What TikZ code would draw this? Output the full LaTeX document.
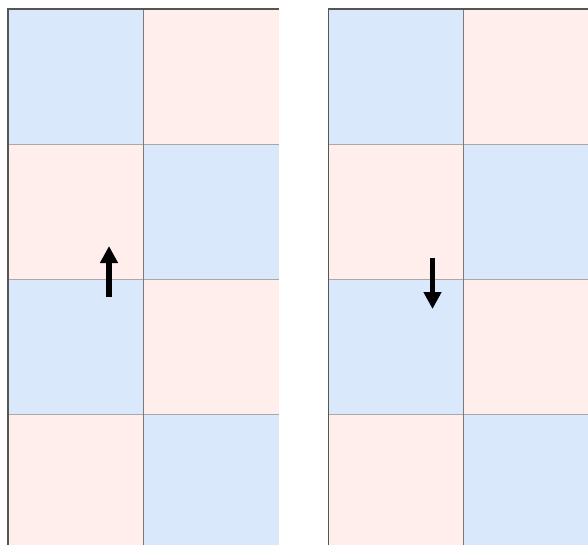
\documentclass[tikz,border=0pt]{standalone}
\usetikzlibrary{arrows.meta}
\definecolor{cblue}{HTML}{DAE8FC}
\definecolor{cpink}{HTML}{FFEEEC}
\definecolor{hline}{HTML}{A8A8A8}
\definecolor{vline}{HTML}{7A7A7A}
\definecolor{edge}{HTML}{555555}
\begin{document}
\begin{tikzpicture}[x=1pt,y=-1pt,
  cell/.style={minimum width=135pt,minimum height=135pt,inner sep=0pt,outer sep=0pt,anchor=north west},
  bluecell/.style={cell,fill=cblue},
  pinkcell/.style={cell,fill=cpink},
  bigarrow/.style={line width=5.5pt,-{Triangle[length=17pt,width=17pt]}}]
\fill[white] (0,0) rectangle (588,544);
\useasboundingbox (0,0) rectangle (588,544);
\begin{scope}
\clip (0,0) rectangle (588,544);
% left grid
\node[bluecell] (a11) at (8,9) {};
\node[pinkcell] (a12) at (143.5,9) {};
\node[pinkcell] (a21) at (8,144) {};
\node[bluecell] (a22) at (143.5,144) {};
\node[bluecell] (a31) at (8,279) {};
\node[pinkcell] (a32) at (143.5,279) {};
\node[pinkcell] (a41) at (8,414) {};
\node[bluecell] (a42) at (143.5,414) {};
% right grid
\node[bluecell] (b11) at (328.5,9) {};
\node[pinkcell] (b12) at (463.5,9) {};
\node[pinkcell] (b21) at (328.5,144) {};
\node[bluecell] (b22) at (463.5,144) {};
\node[bluecell] (b31) at (328.5,279) {};
\node[pinkcell] (b32) at (463.5,279) {};
\node[pinkcell] (b41) at (328.5,414) {};
\node[bluecell] (b42) at (463.5,414) {};
% grid lines
\foreach \g in {a,b}{
  \foreach \r in {2,3,4}{
    \draw[hline,line width=1pt] (\g\r1.north west) -- (\g\r2.north east);
  }
  \draw[vline,line width=1pt] (\g11.north east) -- (\g41.south east);
  \draw[edge,line width=1.2pt] (\g11.south west) -- (\g11.north west) -- (\g12.north east);
  \draw[edge,line width=1.2pt] (\g41.south west) -- (\g11.south west);
}
\end{scope}
% arrows
\coordinate (up0) at (109,297);
\coordinate (up1) at (109,246);
\coordinate (dn0) at (432.5,258);
\coordinate (dn1) at (432.5,309);
\draw[bigarrow] (up0) -- (up1);
\draw[bigarrow] (dn0) -- (dn1);
\end{tikzpicture}
\end{document}
